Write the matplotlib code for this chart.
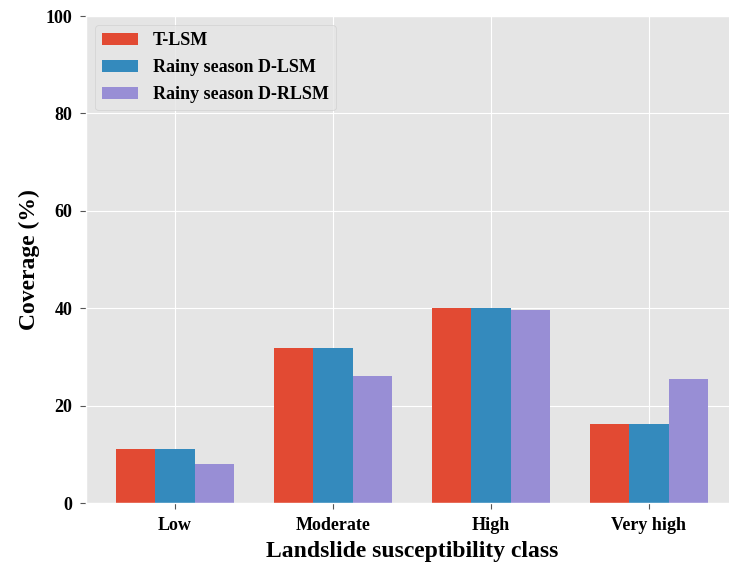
import numpy as np
import matplotlib
matplotlib.use('Agg')
import matplotlib.pyplot as plt

plt.style.use('ggplot')
plt.rcParams['font.family'] = ['Liberation Serif', 'DejaVu Serif']
plt.rcParams['font.weight'] = 'bold'

# classes de susceptibilité
categories = ['Low', 'Moderate', 'High', 'Very high']
# couverture (%) par carte
t_lsm = [11.1, 31.8, 40.0, 16.3]
rainy_d_lsm = [11.1, 31.8, 40.0, 16.3]
rainy_d_rlsm = [8.0, 26.1, 39.6, 25.5]
series_names = ['T-LSM', 'Rainy season D-LSM', 'Rainy season D-RLSM']

fig = plt.figure(figsize=(7.29, 5.64), dpi=100)
ax = fig.add_axes([0.118, 0.108, 0.894, 0.8635])

x = np.arange(len(categories))
w = 0.25
ax.bar(x - w, t_lsm, w, color='#E24A33', label=series_names[0])
ax.bar(x, rainy_d_lsm, w, color='#348ABD', label=series_names[1])
ax.bar(x + w, rainy_d_rlsm, w, color='#988ED5', label=series_names[2])

ax.set_ylim(0, 100)
ax.set_xticks(x)
ax.set_xticklabels(categories)
ax.tick_params(axis='both', labelsize=13, labelcolor='black',
               length=4, width=0.8, color='#555555', pad=6)
for lab in ax.get_xticklabels() + ax.get_yticklabels():
    lab.set_fontweight('bold')

ax.set_xlabel('Landslide susceptibility class', fontsize=17, fontweight='bold',
              color='black', labelpad=5)
ax.set_ylabel('Coverage (%)', fontsize=17, fontweight='bold', color='black',
              labelpad=4)

leg = ax.legend(loc='upper left', prop={'size': 13, 'weight': 'bold'},
                labelspacing=0.55)
for t in leg.get_texts():
    t.set_color('black')

fig.savefig('out.png', dpi=100)
